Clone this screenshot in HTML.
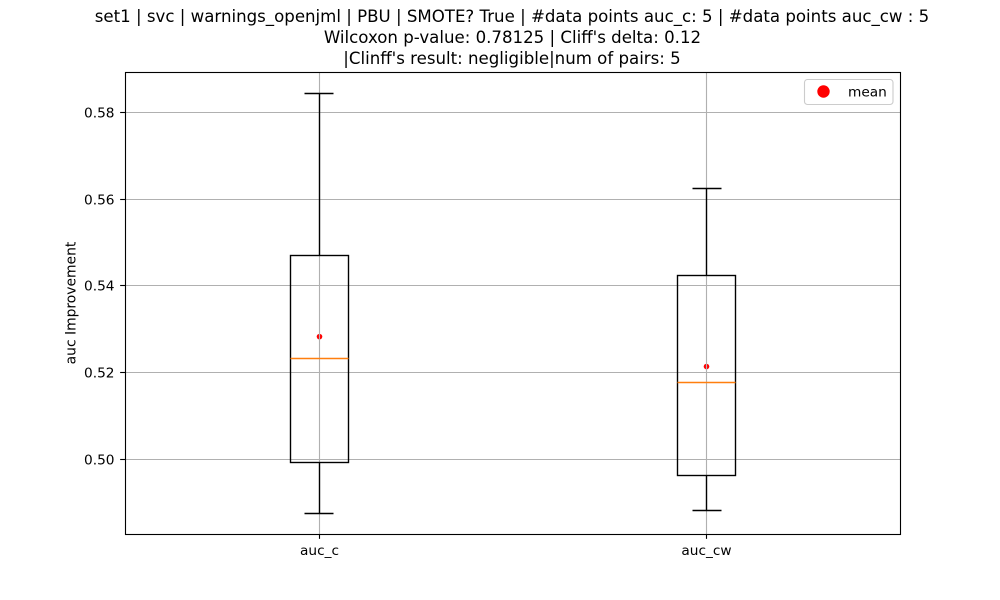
<!DOCTYPE html>
<html>
<head>
<meta charset="utf-8">
<style>
html,body{margin:0;padding:0;background:#fff;}
svg{display:block;}
text{font-family:"DejaVu Sans","Liberation Sans",sans-serif;fill:#000;}
</style>
</head>
<body>
<svg id="chart" xmlns="http://www.w3.org/2000/svg" width="1000" height="600" viewBox="0 0 1000 600">
  <rect x="0" y="0" width="1000" height="600" fill="#fff"/>
  <g font-size="16.63" text-anchor="middle">
    <text x="512" y="22">set1 | svc | warnings_openjml | PBU | SMOTE? True | #data points auc_c: 5 | #data points auc_cw : 5</text>
    <text x="512.5" y="43">Wilcoxon p-value: 0.78125 | Cliff's delta: 0.12</text>
    <text x="512" y="64">|Clinff's result: negligible|num of pairs: 5</text>
  </g>
  <g id="means"></g>
  <g id="grid"></g>
  <g id="marks"></g>
  <rect x="125.5" y="72.5" width="775" height="462" fill="none" stroke="#000" stroke-width="1.11"/>
  <g id="ticks"></g>
  <text font-size="13.89" text-anchor="middle" transform="translate(75.5,303) rotate(-90)">auc Improvement</text>
  <g>
    <rect x="804.5" y="79.5" width="88.5" height="25" rx="3" fill="#fff" fill-opacity="0.8" stroke="#ccc" stroke-width="1.11"/>
    <circle cx="823.5" cy="91.5" r="6.2" fill="#ff0000"/>
    <text x="848" y="96.5" font-size="13.7">mean</text>
  </g>
</svg>
<script>
const categories = ["auc_c", "auc_cw"];
const whiskerLow = [0.4876, 0.4883];
const q1Values = [0.4993, 0.4963];
const medianValues = [0.5233, 0.5177];
const q3Values = [0.5470, 0.5424];
const whiskerHigh = [0.5844, 0.5625];
const meanValues = [0.5283, 0.5214];
const yTickValues = [0.50, 0.52, 0.54, 0.56, 0.58];
const yTickLabels = ["0.50", "0.52", "0.54", "0.56", "0.58"];

const SVGNS = "http://www.w3.org/2000/svg";
const plot = { left: 125, right: 900, top: 72, bottom: 534 };
const yMin = 0.4828, yMax = 0.58931;
const xMin = 0.5, xMax = 2.5;

function xScale(v) {
  return plot.left + (v - xMin) / (xMax - xMin) * (plot.right - plot.left);
}
function yScale(v) {
  return plot.bottom - (v - yMin) / (yMax - yMin) * (plot.bottom - plot.top);
}
function snap(p) {
  return Math.floor(p) + 0.5;
}
function addLine(parent, x1, y1, x2, y2, stroke, width) {
  const l = document.createElementNS(SVGNS, "line");
  l.setAttribute("x1", x1);
  l.setAttribute("y1", y1);
  l.setAttribute("x2", x2);
  l.setAttribute("y2", y2);
  l.setAttribute("stroke", stroke);
  l.setAttribute("stroke-width", width);
  parent.appendChild(l);
  return l;
}
function addText(parent, x, y, str, anchor) {
  const t = document.createElementNS(SVGNS, "text");
  t.setAttribute("x", x);
  t.setAttribute("y", y);
  t.setAttribute("font-size", "13.7");
  t.setAttribute("text-anchor", anchor);
  t.textContent = str;
  parent.appendChild(t);
  return t;
}

const gridG = document.getElementById("grid");
const marksG = document.getElementById("marks");
const ticksG = document.getElementById("ticks");
const meansG = document.getElementById("means");

yTickValues.forEach(function (v, i) {
  const y = snap(yScale(v));
  const g = addLine(gridG, plot.left, y, plot.right, y, "#b0b0b0", 1.11);
  
  
  const t = addLine(ticksG, plot.left - 4.86, y, plot.left, y, "#000", 1.11);
  
  
  const lab = addText(ticksG, 114.5, y + 5, yTickLabels[i], "end");
  
  
});

categories.forEach(function (name, i) {
  const pos = i + 1;
  const x = snap(xScale(pos) + 0.5);
  const g = addLine(gridG, x, plot.top, x, plot.bottom, "#b0b0b0", 1.11);
  
  
  const t = addLine(ticksG, x, plot.bottom, x, plot.bottom + 4.86, "#000", 1.11);
  
  
  const lab = addText(ticksG, x, 555, name, "middle");
  
  

  const boxL = snap(xScale(pos - 0.075) + 0.5);
  const boxR = snap(xScale(pos + 0.075) + 0.5);
  const capL = snap(xScale(pos - 0.0375) + 0.5);
  const capR = snap(xScale(pos + 0.0375) + 0.5);
  const yQ1 = snap(yScale(q1Values[i]));
  const yQ3 = snap(yScale(q3Values[i]));
  const yMed = snap(yScale(medianValues[i]));
  const yLo = snap(yScale(whiskerLow[i]));
  const yHi = snap(yScale(whiskerHigh[i]));

  const wl = addLine(marksG, x, yQ1, x, yLo, "#000", 1.39);
  
  
  const wh = addLine(marksG, x, yQ3, x, yHi, "#000", 1.39);
  
  
  const cl = addLine(marksG, capL, yLo, capR, yLo, "#000", 1.39);
  
  
  const ch = addLine(marksG, capL, yHi, capR, yHi, "#000", 1.39);
  
  

  const box = document.createElementNS(SVGNS, "rect");
  box.setAttribute("x", boxL);
  box.setAttribute("y", yQ3);
  box.setAttribute("width", boxR - boxL);
  box.setAttribute("height", yQ1 - yQ3);
  box.setAttribute("fill", "none");
  box.setAttribute("stroke", "#000");
  box.setAttribute("stroke-width", "1.39");
  
  
  marksG.appendChild(box);

  const med = addLine(marksG, boxL, yMed, boxR, yMed, "#ff7f0e", 1.39);
  
  

  const dot = document.createElementNS(SVGNS, "circle");
  dot.setAttribute("cx", x);
  dot.setAttribute("cy", yScale(meanValues[i]));
  dot.setAttribute("r", "2.8");
  dot.setAttribute("fill", "#ff0000");
  
  
  meansG.appendChild(dot);
});
</script>
</body>
</html>
